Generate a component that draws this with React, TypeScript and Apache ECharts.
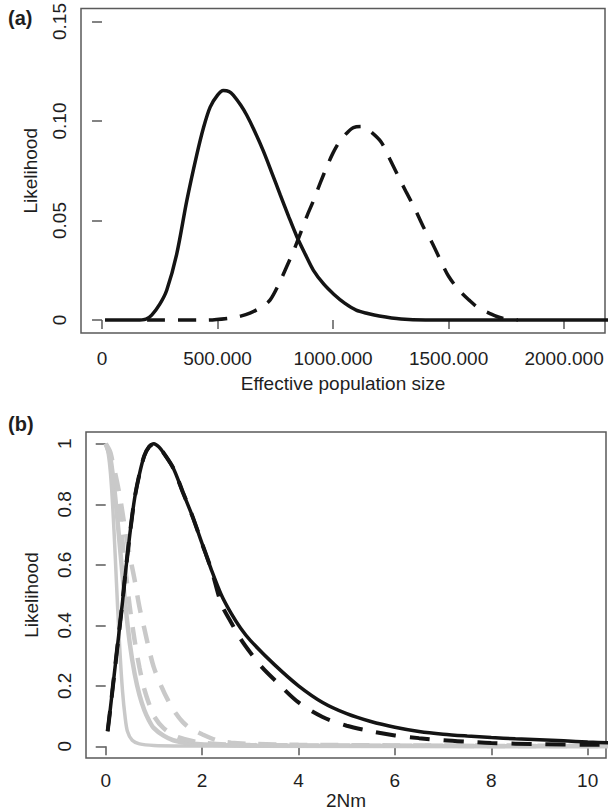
import React, { useEffect, useRef } from "react";
import * as echarts from "echarts";

// Panel (a): effective population size
const neSolidX = [13, 150, 190, 215, 250, 280, 323, 367, 410, 440, 468, 500, 525, 550, 568, 600, 626, 660, 698, 735, 771, 808, 843, 880, 915, 960, 1003, 1050, 1100, 1150, 1200, 1294, 1400, 2200];
const neSolidY = [0, 0, 0.0005, 0.0025, 0.008, 0.015, 0.033, 0.06, 0.083, 0.097, 0.107, 0.113, 0.1153, 0.1148, 0.113, 0.108, 0.103, 0.095, 0.085, 0.074, 0.063, 0.052, 0.042, 0.033, 0.025, 0.018, 0.013, 0.0085, 0.005, 0.0033, 0.002, 0.0005, 0, 0];
const neDashX = [195, 450, 554, 600, 640, 690, 727, 765, 800, 830, 857, 886, 915, 945, 973, 1000, 1030, 1060, 1088, 1128, 1165, 1208, 1245, 1281, 1318, 1355, 1390, 1428, 1465, 1500, 1545, 1589, 1630, 1675, 1730, 1800];
const neDashY = [0, 0, 0.001, 0.002, 0.0035, 0.0065, 0.01, 0.018, 0.027, 0.035, 0.043, 0.052, 0.06, 0.069, 0.077, 0.084, 0.09, 0.094, 0.0967, 0.0972, 0.0945, 0.0895, 0.081, 0.0725, 0.064, 0.0557, 0.047, 0.039, 0.03, 0.022, 0.015, 0.01, 0.006, 0.0035, 0.001, 0];
const neTicks = [0, 500, 1000, 1500, 2000];
const neTickLabels = ["0", "500.000", "1000.000", "1500.000", "2000.000"];
const likATicks = [0, 0.05, 0.1, 0.15];
const likATickLabels = ["0", "0.05", "0.10", "0.15"];

// Panel (b): 2Nm
const nmBlackSolidX = [0.04, 0.1, 0.15, 0.2, 0.25, 0.3, 0.35, 0.4, 0.5, 0.6, 0.7, 0.8, 0.9, 1.0, 1.1, 1.2, 1.4, 1.6, 1.8, 2.0, 2.2, 2.4, 2.6, 2.8, 3.0, 3.5, 4.0, 4.5, 5.0, 5.5, 6.0, 6.5, 7.0, 7.5, 8.0, 8.5, 9.0, 9.5, 10.0, 10.5];
const nmBlackSolidY = [0.05, 0.13, 0.2, 0.27, 0.34, 0.41, 0.48, 0.56, 0.7, 0.82, 0.9, 0.96, 0.99, 1.0, 0.99, 0.97, 0.92, 0.84, 0.76, 0.67, 0.58, 0.5, 0.44, 0.39, 0.35, 0.27, 0.2, 0.145, 0.108, 0.082, 0.063, 0.049, 0.04, 0.034, 0.029, 0.025, 0.022, 0.018, 0.014, 0.011];
const nmBlackDashX = [0.04, 0.1, 0.15, 0.2, 0.25, 0.3, 0.35, 0.4, 0.5, 0.6, 0.7, 0.8, 0.9, 1.0, 1.1, 1.2, 1.4, 1.6, 1.8, 2.0, 2.2, 2.4, 2.6, 2.8, 3.0, 3.25, 3.5, 4.0, 4.5, 5.0, 5.5, 6.0, 6.5, 7.0, 7.5, 8.0, 9.0, 10.0, 10.5];
const nmBlackDashY = [0.05, 0.13, 0.2, 0.27, 0.34, 0.41, 0.48, 0.56, 0.7, 0.82, 0.9, 0.96, 0.99, 1.0, 0.99, 0.97, 0.92, 0.84, 0.76, 0.67, 0.58, 0.47, 0.41, 0.355, 0.31, 0.26, 0.22, 0.145, 0.097, 0.068, 0.05, 0.036, 0.027, 0.02, 0.015, 0.011, 0.007, 0.005, 0.005];
const nmGrayAX = [0.0, 0.05, 0.1, 0.15, 0.2, 0.25, 0.3, 0.35, 0.4, 0.45, 0.55, 0.7, 1.0, 2.0, 10.5];
const nmGrayAY = [1.0, 0.97, 0.9, 0.78, 0.62, 0.45, 0.3, 0.18, 0.1, 0.05, 0.02, 0.008, 0.003, 0.001, 0];
const nmGrayBX = [0.0, 0.1, 0.2, 0.3, 0.4, 0.5, 0.6, 0.7, 0.8, 0.9, 1.0, 1.2, 1.4, 1.7, 2.2, 3.0, 10.5];
const nmGrayBY = [1.0, 0.95, 0.82, 0.65, 0.48, 0.34, 0.24, 0.17, 0.12, 0.085, 0.06, 0.035, 0.02, 0.01, 0.005, 0.002, 0];
const nmGrayCX = [0.0, 0.1, 0.2, 0.3, 0.4, 0.5, 0.6, 0.7, 0.8, 0.9, 1.0, 1.2, 1.5, 2.0, 3.0, 10.5];
const nmGrayCY = [1.0, 0.97, 0.88, 0.75, 0.6, 0.46, 0.35, 0.26, 0.19, 0.14, 0.1, 0.06, 0.03, 0.012, 0.004, 0.001];
const nmGrayDX = [0.0, 0.1, 0.2, 0.3, 0.4, 0.5, 0.6, 0.7, 0.8, 0.9, 1.0, 1.15, 1.3, 1.45, 1.6, 1.75, 2.0, 2.3, 2.6, 3.0, 4.0, 6.0, 10.5];
const nmGrayDY = [1.0, 0.96, 0.9, 0.82, 0.72, 0.63, 0.55, 0.46, 0.39, 0.32, 0.26, 0.2, 0.15, 0.11, 0.08, 0.06, 0.04, 0.02, 0.012, 0.008, 0.005, 0.003, 0.002];
const nmTicks = [0, 2, 4, 6, 8, 10];
const likBTicks = [0, 0.2, 0.4, 0.6, 0.8, 1];
const likBTickLabels = ["0", "0.2", "0.4", "0.6", "0.8", "1"];

const zip = (xs: number[], ys: number[]) => xs.map((x, i) => [x, ys[i]]);

const FONT = "'Liberation Sans', Arial, sans-serif";
const TEXT = "#1e1e1e";
const AXIS = "#5a5a5a";
const BLACK = "#141414";
const GRAY = "#c9c9c9";

export default function App() {
  const ref = useRef<HTMLDivElement>(null);
  useEffect(() => {
    if (!ref.current) return;
    const chart = echarts.init(ref.current, undefined, { renderer: "svg" });
    const labelFmt = (vals: number[], labels: string[]) => (v: number) => {
      const i = vals.findIndex((t) => Math.abs(t - v) < 1e-9);
      return i >= 0 ? labels[i] : "";
    };
    const xAxisBase = {
      type: "value" as const,
      axisLine: { show: false },
      splitLine: { show: false },
      axisTick: { show: true, inside: false, length: 9, lineStyle: { color: AXIS, width: 1.5 } },
      nameLocation: "middle" as const,
      nameTextStyle: { fontFamily: FONT, fontSize: 19, color: TEXT },
    };
    const yAxisBase = {
      type: "value" as const,
      axisLine: { show: false },
      splitLine: { show: false },
      axisTick: { show: true, inside: false, length: 10, lineStyle: { color: AXIS, width: 1.5 } },
      nameLocation: "middle" as const,
      nameTextStyle: { fontFamily: FONT, fontSize: 19, color: TEXT },
    };
    chart.setOption({
      animation: false,
      backgroundColor: "#ffffff",
      grid: [
        { left: 81, top: 7, width: 524, height: 326, show: true, borderColor: AXIS, borderWidth: 1.5, backgroundColor: "transparent" },
        { left: 86, top: 432, width: 520, height: 328, show: true, borderColor: AXIS, borderWidth: 1.5, backgroundColor: "transparent" },
      ],
      xAxis: [
        {
          ...xAxisBase,
          gridIndex: 0,
          min: -91,
          max: 2177,
          name: "Effective population size",
          nameGap: 41,
          axisTick: { ...xAxisBase.axisTick, customValues: neTicks },
          axisLabel: {
            customValues: neTicks,
            formatter: labelFmt(neTicks, neTickLabels),
            margin: 16,
            fontFamily: FONT,
            fontSize: 19,
            color: TEXT,
          },
        },
        {
          ...xAxisBase,
          gridIndex: 1,
          min: -0.409,
          max: 10.38,
          name: "2Nm",
          nameGap: 30,
          axisTick: { ...xAxisBase.axisTick, customValues: nmTicks },
          axisLabel: {
            customValues: nmTicks,
            formatter: (v: number) => String(v),
            margin: 13,
            fontFamily: FONT,
            fontSize: 19,
            color: TEXT,
          },
        },
      ],
      yAxis: [
        {
          ...yAxisBase,
          gridIndex: 0,
          min: -0.0065,
          max: 0.1565,
          name: "Likelihood",
          nameGap: 41,
          axisTick: { ...yAxisBase.axisTick, customValues: likATicks },
          axisLabel: {
            customValues: likATicks,
            formatter: labelFmt(likATicks, likATickLabels),
            rotate: 90,
            margin: 12,
            fontFamily: FONT,
            fontSize: 19,
            color: TEXT,
          },
        },
        {
          ...yAxisBase,
          gridIndex: 1,
          min: -0.039,
          max: 1.039,
          name: "Likelihood",
          nameGap: 45,
          axisTick: { ...yAxisBase.axisTick, customValues: likBTicks },
          axisLabel: {
            customValues: likBTicks,
            formatter: labelFmt(likBTicks, likBTickLabels),
            rotate: 90,
            margin: 12,
            fontFamily: FONT,
            fontSize: 19,
            color: TEXT,
          },
        },
      ],
      series: [
        {
          type: "line", xAxisIndex: 0, yAxisIndex: 0, data: zip(neSolidX, neSolidY),
          showSymbol: false, smooth: 0.3, lineStyle: { color: BLACK, width: 3.5 },
        },
        {
          type: "line", xAxisIndex: 0, yAxisIndex: 0, data: zip(neDashX, neDashY),
          showSymbol: false, smooth: 0.3, lineStyle: { color: BLACK, width: 3.5, type: [18, 13] },
        },
        {
          type: "line", xAxisIndex: 1, yAxisIndex: 1, data: zip(nmGrayAX, nmGrayAY),
          showSymbol: false, smooth: 0.3, lineStyle: { color: GRAY, width: 3.5 },
        },
        {
          type: "line", xAxisIndex: 1, yAxisIndex: 1, data: zip(nmGrayBX, nmGrayBY),
          showSymbol: false, smooth: 0.3, lineStyle: { color: GRAY, width: 4.5 },
        },
        {
          type: "line", xAxisIndex: 1, yAxisIndex: 1, data: zip(nmGrayCX, nmGrayCY),
          showSymbol: false, smooth: 0.3, lineStyle: { color: GRAY, width: 4.5, type: [18, 13] },
        },
        {
          type: "line", xAxisIndex: 1, yAxisIndex: 1, data: zip(nmGrayDX, nmGrayDY),
          showSymbol: false, smooth: 0.3, lineStyle: { color: GRAY, width: 4.5, type: [18, 13] },
        },
        {
          type: "line", xAxisIndex: 1, yAxisIndex: 1, data: zip(nmBlackDashX, nmBlackDashY),
          showSymbol: false, smooth: 0.3, lineStyle: { color: BLACK, width: 4, type: [20, 14] },
        },
        {
          type: "line", xAxisIndex: 1, yAxisIndex: 1, data: zip(nmBlackSolidX, nmBlackSolidY),
          showSymbol: false, smooth: 0.3, lineStyle: { color: BLACK, width: 3.5 },
        },
      ],
      graphic: [
        { type: "text", left: 8, top: 8, style: { text: "(a)", font: `bold 20px ${FONT}`, fill: TEXT } },
        { type: "text", left: 8, top: 414, style: { text: "(b)", font: `bold 20px ${FONT}`, fill: TEXT } },
      ],
    });
    return () => chart.dispose();
  }, []);
  return (
    <div
      ref={ref}
      style={{ position: "absolute", left: 0, top: 0, width: 608, height: 811, background: "#fff" }}
    />
  );
}
